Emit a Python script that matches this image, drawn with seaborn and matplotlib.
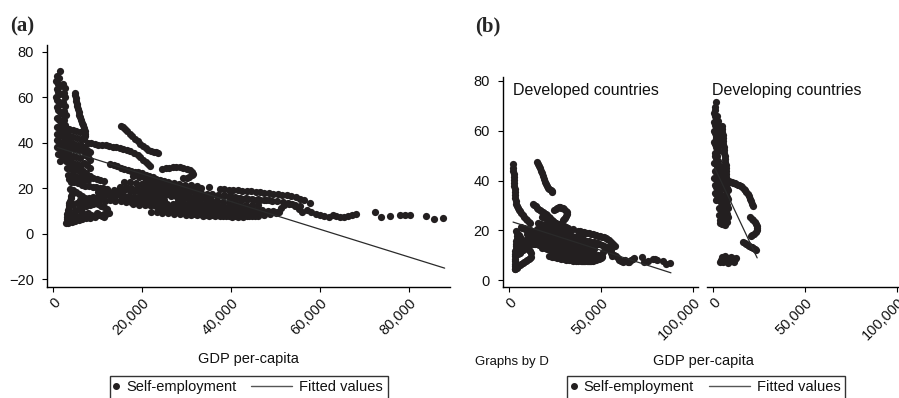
import numpy as np
import pandas as pd
import matplotlib
matplotlib.use("Agg")
import matplotlib.pyplot as plt
import seaborn as sns
from matplotlib.lines import Line2D
from matplotlib.legend_handler import HandlerLine2D
from matplotlib.ticker import FuncFormatter

# ---------------- data (GDP per-capita in thousands, self-employment %) ----------------
# Developed countries
dev1_gdp_k = [2.2,2.3,2.4,2.5,2.6,2.7,2.8,2.9,3.0,3.1,3.2,3.4,3.6,3.9,4.3,4.8,5.4,6.0,6.7,7.4,8.2,9.0,9.8,10.6,11.4]
dev1_se = [46.5,45.2,44.0,42.8,41.5,40.3,39.0,37.8,36.5,35.3,34.0,32.8,31.6,30.6,29.8,29.0,28.3,27.6,26.8,26.0,25.2,24.6,24.0,23.5,23.0]
dev2_gdp_k = [3.0,3.05,3.1,3.2,3.25,3.3,3.4,3.5,3.6,3.7,3.8,3.95,4.1,4.3]
dev2_se = [4.5,5.5,6.5,7.5,8.5,9.5,10.5,11.5,12.5,13.5,14.5,15.5,16.5,17.5]
dev3_gdp_k = [15.2,15.7,16.2,16.7,17.2,17.8,18.4,19.0,19.6,20.2,20.8,21.4,22.0,22.6,23.2,23.6]
dev3_se = [47.5,46.8,46.0,45.0,44.0,43.0,41.8,40.6,39.5,38.6,37.8,37.0,36.4,36.0,35.7,35.5]
dev4_gdp_k = [12.8,13.6,14.4,15.2,16.0,16.8,17.6,18.4,19.2,20.0,20.8,21.6,22.4,23.2,24.0,25.0,26.0,27.0,28.0,29.0,30.0,31.0,32.0]
dev4_se = [30.5,30.0,29.6,29.0,28.6,28.1,27.7,27.3,27.0,26.6,26.0,25.4,24.8,24.2,23.6,23.0,22.4,21.9,21.4,20.9,20.4,20.0,19.6]
dev5_gdp_k = [24.5,25.3,26.1,26.9,27.7,28.5,29.3,30.1,30.8,31.3,31.5,31.2,30.6,30.0,29.3]
dev5_se = [28.3,28.7,29.0,29.3,29.3,29.1,28.8,28.4,27.9,27.2,26.4,25.6,25.0,24.6,24.3]
dev6_gdp_k = [20,21.2,22.4,23.6,24.8,26,27.2,28.4,29.6,30.8,32,33.2,35,37.5,38.5,39.5,40.5,41.5,42.5,43.5,44.5,45.5,46.5,47.5,48.5,49.5,50.5,51.5,52.5,53.5,54.5,55.5,56.5,57.7]
dev6_se = [22,21.7,21.4,21.2,21,20.8,20.6,20.4,20.3,20.2,20.1,20,20.4,19.8,19.6,19.4,19.2,19,18.9,18.8,18.6,18.4,18.2,18,17.8,17.6,17.4,17.1,16.8,16.5,16,15.4,14.6,13.6]
dev7_gdp_k = [6.0,7.0,8.0,9.0,10.0,11.0,12.0,13.0,14.0,15.0,16.0,17.0,18.0,19.0,20.0,21.0,22.0,23.0,24.0,25.0]
dev7_se = [15.0,15.3,15.6,16.0,16.3,16.6,16.8,17.0,17.0,16.9,16.7,16.5,16.3,16.1,15.9,15.7,15.5,15.4,15.2,15.0]
dev8_gdp_k = [14,15.3,16.6,17.9,19.2,20.5,21.8,23.1,24.4,25.7,27,28.3,29.6,30.9,32.2,33.5,34.8,36.1,37.4,38.7,40]
dev8_se = [15,14.8,14.6,14.4,14.2,14,13.8,13.6,13.4,13.2,13,12.8,12.6,12.4,12.2,12,11.8,11.6,11.4,11.2,11]
dev9_gdp_k = [24,25.3,26.6,27.9,29.2,30.5,31.8,33.1,34.4,35.7,37,38.3,39.6,40.9,42.2,43.5,44.8,46.1,47.4,48.7,50]
dev9_se = [10.5,10.2,9.9,9.6,9.3,9.0,8.8,8.6,8.4,8.2,8.0,7.9,7.8,7.7,7.6,7.6,7.7,7.9,8.2,8.6,9.0]
dev10_gdp_k = [20,21.2,22.4,23.6,24.8,26,27.2,28.4,29.6,30.8,32,33.2,34.4,35.6,36.8]
dev10_se = [19,18.7,18.4,18.1,17.8,17.5,17.2,16.9,16.6,16.3,16.0,15.6,15.2,14.8,14.4]
dev11_gdp_k = [28,29.3,30.6,31.9,33.2,34.5,35.8,37.1,38.4,39.7,41,42.3,43.6,44.9,46.2]
dev11_se = [14.2,13.9,13.6,13.3,13.0,12.7,12.4,12.1,11.8,11.5,11.2,10.9,10.6,10.3,10.0]
dev12_gdp_k = [18,19.3,20.6,21.9,23.2,24.5,25.8,27.1,28.4,29.7,31,32.3,33.6]
dev12_se = [13.0,12.8,12.6,12.4,12.2,12.0,11.7,11.4,11.1,10.8,10.5,10.2,9.9]
dev13_gdp_k = [50.3,51.2,52.0,52.8,53.6,54.4,55.2,56.0,57.0,58.0,59.0,60.0,61.0,62.0]
dev13_se = [9.3,11.2,12.6,13.4,12.9,12.2,11.0,9.6,10.2,9.6,8.8,8.2,7.6,7.3]
dev14_gdp_k = [62.8,63.6,64.5,65.4,66.3,67.2,68.0,72.4,73.6,75.8,78.0,79.2,80.3,83.7,85.5,87.7]
dev14_se = [8.2,7.6,7.2,7.4,7.9,8.3,8.8,9.3,7.3,7.6,8.3,8.4,8.0,7.6,6.3,7.0]
dev15_gdp_k = [40,41.3,42.6,43.9,45.2,46.5,47.8,49.1,50.4,51.7,53,54.3,55.6]
dev15_se = [15.8,15.6,15.4,15.2,15.0,14.8,14.6,14.4,14.2,13.8,13.2,12.6,12.0]
dev16_gdp_k = [3.4,4.2,5.0,5.8,6.6,7.4,8.2,9.0,9.8,10.6,11.4,12.2]
dev16_se = [4.6,5.0,5.5,6.0,6.4,6.8,7.2,7.6,8.0,8.4,8.8,9.2]
dev17_gdp_k = [3.8,4.5,5.2,5.9,6.6,7.3,8.0,8.7,9.4,10.1,10.8,11.5,12.2]
dev17_se = [19.8,19.0,18.2,17.4,16.6,15.8,15.0,14.3,13.6,12.9,12.2,11.6,11.0]
dev18_gdp_k = [16,17.3,18.6,19.9,21.2,22.5,23.8,25.1,26.4,27.7,29,30.3,31.6,32.9]
dev18_se = [22.8,22.5,22.2,22.0,21.7,21.4,21.0,20.6,20.2,19.8,19.4,19.0,18.6,18.2]
dev19_gdp_k = [18,19.3,20.6,21.9,23.2,24.5,25.8,27.1,28.4,29.7,31,32.3]
dev19_se = [25.2,24.8,24.4,24.0,23.6,23.2,22.8,22.4,22.0,21.6,21.2,20.8]
dev20_gdp_k = [33,34.3,35.6,36.9,38.2,39.5,40.8,42.1,43.4,44.7,46,47.3,48.6]
dev20_se = [17.2,17.0,16.8,16.6,16.4,16.2,16.0,15.8,15.6,15.4,15.2,15.0,14.8]
dev21_gdp_k = [22,23.3,24.6,25.9,27.2,28.5,29.8,31.1,32.4,33.7,35,36.3,37.6,38.9,40.2,41.5,42.8,44.1,45.4]
dev21_se = [9.6,9.4,9.2,9.0,8.8,8.6,8.4,8.2,8.0,7.9,7.8,7.7,7.6,7.6,7.5,7.5,7.5,7.6,7.8]
dev22_gdp_k = [10,11.2,12.4,13.6,14.8,16,17.2,18.4,19.6,20.8,22]
dev22_se = [18.4,18.6,18.8,19.0,19.1,19.0,18.8,18.6,18.3,18.0,17.7]
dev23_gdp_k = [6.5,7.3,8.1,8.9,9.7,10.5,11.3,12.1]
dev23_se = [21.5,21.0,20.8,20.6,20.4,20.2,20.0,19.8]
dev24_gdp_k = [20,21.3,22.6,23.9,25.2,26.5,27.8,29.1,30.4,31.7,33,34.3,35.6,36.9,38.2,39.5,40.8,42.1,43.4,44.7,46]
dev24_se = [17.6,17.4,17.2,17.0,16.8,16.6,16.3,16.0,15.7,15.4,15.1,14.8,14.5,14.2,13.9,13.6,13.3,13.0,12.8,12.6,12.4]
dev25_gdp_k = [25,26.3,27.6,28.9,30.2,31.5,32.8,34.1,35.4,36.7,38,39.3,40.6,41.9,43.2,44.5,45.8,47.1,48.4]
dev25_se = [11.6,11.3,11.0,10.8,10.6,10.4,10.2,10.0,9.8,9.7,9.6,9.5,9.4,9.3,9.2,9.2,9.3,9.5,9.7]
dev26_gdp_k = [15,16.3,17.6,18.9,20.2,21.5,22.8,24.1,25.4,26.7,28,29.3,30.6,31.9,33.2,34.5,35.8,37.1,38.4,39.7]
dev26_se = [20.6,20.4,20.2,20.0,19.8,19.6,19.4,19.2,19.0,18.8,18.6,18.4,18.2,18.0,17.8,17.6,17.4,17.2,17.0,16.8]
dev27_gdp_k = [30,31.3,32.6,33.9,35.2,36.5,37.8,39.1,40.4,41.7,43,44.3,45.6,46.9,48.2,49.5,50.8]
dev27_se = [12.8,12.6,12.4,12.2,12.0,11.8,11.6,11.4,11.2,11.0,10.8,10.6,10.4,10.2,10.0,9.8,9.6]
dev28_gdp_k = [8,9.2,10.4,11.6,12.8,14,15.2,16.4,17.6,18.8,20]
dev28_se = [14.0,14.2,14.4,14.5,14.6,14.5,14.3,14.1,13.9,13.7,13.5]
dev29_gdp_k = [5.0,5.8,6.6,7.4,8.2,9.0,4.6,5.4,6.2,7.0]
dev29_se = [10.5,11.0,11.5,12.0,12.5,13.0,13.0,13.5,14.0,14.5]

# Developing countries
dvg1_gdp_k = [1.6,0.9,1.3,0.7,1.1,1.5,0.8,1.2,1.6,0.7,1.0,1.4,1.8,0.8,1.2,1.6,2.0,0.9,1.3,1.7,2.1]
dvg1_se = [71.4,69.5,68.5,67,66,65,63.5,62.5,61.5,60,59,58,57,55.5,54.5,53.5,52.5,51,50,49,48]
dvg2_gdp_k = [0.8,1.4,2.0,2.6,3.2,0.9,1.5,2.1,2.7,3.3,0.8,1.4,2.0,2.6,3.2,1.0,1.6,2.2,2.8,3.4,1.1,1.7,2.3,2.9,3.5]
dvg2_se = [47,46.5,46,45.5,45,44,43.5,43,42.5,42,41,40.5,40,39.5,39,38,37.5,37,36.5,36,35,34.5,34,33.5,33]
dvg3_gdp_k = [2.8,3.6,4.4,5.2,6.0,3.0,3.8,4.6,5.4,6.2,3.2,4.0,4.8,5.6,6.4,3.4,4.2,5.0,5.8,6.6,3.6,4.4,5.2,6.0,6.8,4.0,4.8,5.6,6.4,1.6]
dvg3_se = [35,34.6,34.2,33.8,33.4,32,31.6,31.2,30.8,30.4,29,28.6,28.2,27.8,27.4,26,25.6,25.2,24.8,24.4,24,23.8,23.6,23.4,23.2,22.8,22.6,22.4,22.2,32]
dvg4_gdp_k = [3.6,4.4,5.2,6.0,3.8,4.6,5.4,6.2,4.0,4.8,5.6,6.4,4.2,5.0,5.8,6.6]
dvg4_se = [46,45.6,45.2,44.8,43,42.6,42.2,41.8,40,39.6,39.2,38.8,37.5,37.2,36.9,36.6]
dvg5_gdp_k = [4.9,5.0,5.1,5.2,5.3,5.5,5.6,5.8,5.9,6.1,6.3,6.5,6.7,6.9,7.1,7.3,7.2,7.0]
dvg5_se = [62,60.8,59.6,58.4,57.2,56,54.8,53.6,52.4,51.2,50,48.8,47.6,46.4,45.2,44,42.8,41.6]
dvg6_gdp_k = [7.8,8.6,9.4,10.2,11.0,11.8,12.6,13.4,14.2,15.0,15.8,16.6,17.4,18.2,19.0,19.6,20.2,20.8,21.3,21.8]
dvg6_se = [40,39.7,39.4,39.2,39.0,38.8,38.6,38.3,38.0,37.6,37.2,36.7,36.2,35.5,34.6,33.6,32.6,31.6,30.6,29.6]
dvg7_gdp_k = [20.2,21.0,21.8,22.6,23.3,23.8,24.0,23.7,23.1,22.3,21.4,20.6]
dvg7_se = [25.2,24.6,24.0,23.3,22.6,21.8,21.0,20.2,19.4,18.7,18.0,17.5]
dvg8_gdp_k = [16.4,17.2,18.0,18.8,19.6,20.4,21.2,22.0,22.8,23.3]
dvg8_se = [15.3,14.8,14.4,14.0,13.7,13.4,13.1,12.8,12.4,12.0]
dvg9_gdp_k = [3.8,4.6,5.4,6.2,7.0,7.8,8.6,9.4,10.2,11.0,11.8,12.6,5.0,6.6,8.2,9.8,11.4]
dvg9_se = [7.4,8.0,7.2,8.4,7.6,9.0,8.2,7.5,8.8,7.9,8.5,8.9,9.3,9.5,6.8,9.2,7.2]
dvg10_gdp_k = [2.2,2.6,2.4,2.8,2.3,2.7,2.5,2.9,2.4,2.8,2.6,3.0]
dvg10_se = [66,64,62,60,58,56,54,52,50,48,46,44]
dvg11_gdp_k = [7.0,7.6,8.2,7.2,7.8,8.4,7.0,7.6,8.2,6.8,7.4,8.0,7.2,7.8]
dvg11_se = [38,37,36,34.5,33.5,32.5,31,30,29,27.5,26.5,25.5,24,23.5]

# Fitted (linear) values, endpoints
fit_all_gdp = [1000, 88000]
fit_all_se = [37.9, -15.2]
fit_dev_gdp = [2200, 88000]
fit_dev_se = [23.3, 2.9]
fit_dvg_gdp = [1000, 24000]
fit_dvg_se = [45.0, 8.9]

a_xticks = [0, 20000, 40000, 60000, 80000]
a_yticks = [-20, 0, 20, 40, 60, 80]
b_xticks = [0, 50000, 100000]
b_yticks = [0, 20, 40, 60, 80]
panel_titles = ["Developed countries", "Developing countries"]
legend_labels = ["Self-employment", "Fitted values"]

# ---------------- build tables ----------------
dev_parts = [(dev1_gdp_k, dev1_se), (dev2_gdp_k, dev2_se), (dev3_gdp_k, dev3_se), (dev4_gdp_k, dev4_se),
             (dev5_gdp_k, dev5_se), (dev6_gdp_k, dev6_se), (dev7_gdp_k, dev7_se), (dev8_gdp_k, dev8_se),
             (dev9_gdp_k, dev9_se), (dev10_gdp_k, dev10_se), (dev11_gdp_k, dev11_se), (dev12_gdp_k, dev12_se),
             (dev13_gdp_k, dev13_se), (dev14_gdp_k, dev14_se), (dev15_gdp_k, dev15_se), (dev16_gdp_k, dev16_se),
             (dev17_gdp_k, dev17_se), (dev18_gdp_k, dev18_se), (dev19_gdp_k, dev19_se), (dev20_gdp_k, dev20_se),
             (dev21_gdp_k, dev21_se), (dev22_gdp_k, dev22_se), (dev23_gdp_k, dev23_se), (dev24_gdp_k, dev24_se),
             (dev25_gdp_k, dev25_se), (dev26_gdp_k, dev26_se), (dev27_gdp_k, dev27_se), (dev28_gdp_k, dev28_se),
             (dev29_gdp_k, dev29_se)]
dvg_parts = [(dvg1_gdp_k, dvg1_se), (dvg2_gdp_k, dvg2_se), (dvg3_gdp_k, dvg3_se), (dvg4_gdp_k, dvg4_se),
             (dvg5_gdp_k, dvg5_se), (dvg6_gdp_k, dvg6_se), (dvg7_gdp_k, dvg7_se), (dvg8_gdp_k, dvg8_se),
             (dvg9_gdp_k, dvg9_se), (dvg10_gdp_k, dvg10_se), (dvg11_gdp_k, dvg11_se)]


def build(parts, group):
    g, s = [], []
    for gk, se in parts:
        assert len(gk) == len(se)
        g += list(gk)
        s += list(se)
    return pd.DataFrame({"gdp": np.array(g) * 1000.0, "se": s, "D": group})


dev = build(dev_parts, panel_titles[0])
dvg = build(dvg_parts, panel_titles[1])
allpts = pd.concat([dev, dvg], ignore_index=True)

# ---------------- style ----------------
sns.set_theme(style="ticks")
plt.rcParams['font.family'] = ['Liberation Sans', 'DejaVu Sans']
plt.rcParams['axes.unicode_minus'] = True

DOT = '#231f20'
LINE = '#2a2a2a'
FS = 10.5
MS = 27

W, H = 899, 398
fig = plt.figure(figsize=(W / 100, H / 100), dpi=100)
fig.patch.set_facecolor('white')

ax_a = fig.add_axes([47 / W, 1 - 287 / H, (450 - 47) / W, (287 - 45) / H])
ax_b1 = fig.add_axes([503 / W, 1 - 287 / H, 195 / W, 210 / H])
ax_b2 = fig.add_axes([707 / W, 1 - 287 / H, 195 / W, 210 / H])

comma = FuncFormatter(lambda v, p: f"{v:,.0f}")


def style_axis(ax, show_y=True):
    ax.set_facecolor('white')
    for side in ['top', 'right']:
        ax.spines[side].set_visible(False)
    ax.spines['bottom'].set_color('black')
    ax.spines['bottom'].set_linewidth(1.0)
    if show_y:
        ax.spines['left'].set_color('black')
        ax.spines['left'].set_linewidth(1.0)
    else:
        ax.spines['left'].set_visible(False)
        ax.tick_params(axis='y', left=False, labelleft=False)
    ax.tick_params(axis='both', direction='out', length=3.6, width=0.8, color='black',
                   labelsize=FS, labelcolor='#111111')
    ax.tick_params(axis='y', pad=6)
    ax.tick_params(axis='x', pad=2.5)
    ax.xaxis.set_major_formatter(comma)
    ax.set_xlabel('')
    ax.set_ylabel('')
    ax.grid(False)


# ---- panel (a)
sns.scatterplot(data=allpts, x='gdp', y='se', ax=ax_a, color=DOT, s=MS, linewidth=0, legend=False, zorder=2)
sns.lineplot(x=fit_all_gdp, y=fit_all_se, ax=ax_a, color=LINE, linewidth=0.9, estimator=None, zorder=3)
ax_a.set_xlim(-1350, 89200)
ax_a.set_ylim(-23.5, 83)
ax_a.set_xticks(a_xticks)
ax_a.set_yticks(a_yticks)
style_axis(ax_a)

# ---- panel (b)
sns.scatterplot(data=dev, x='gdp', y='se', ax=ax_b1, color=DOT, s=MS, linewidth=0, legend=False, zorder=2)
sns.lineplot(x=fit_dev_gdp, y=fit_dev_se, ax=ax_b1, color=LINE, linewidth=0.9, estimator=None, zorder=3)
sns.scatterplot(data=dvg, x='gdp', y='se', ax=ax_b2, color=DOT, s=MS, linewidth=0, legend=False, zorder=2)
sns.lineplot(x=fit_dvg_gdp, y=fit_dvg_se, ax=ax_b2, color=LINE, linewidth=0.9, estimator=None, zorder=3)
for ax, title, showy in [(ax_b1, panel_titles[0], True), (ax_b2, panel_titles[1], False)]:
    ax.set_xlim(-3260, 102700)
    ax.set_ylim(-2.8, 81.6)
    ax.set_xticks(b_xticks)
    ax.set_yticks(b_yticks)
    style_axis(ax, show_y=showy)
    ax.text(10 / 195 if showy else 5 / 195, (287 - 90.5) / 210, title, transform=ax.transAxes,
            ha='left', va='center', fontsize=11.5, color='#111111')

for ax in [ax_a, ax_b1, ax_b2]:
    for lbl in ax.get_xticklabels():
        lbl.set_rotation(45)
        lbl.set_ha('right')
        lbl.set_va('top')
        lbl.set_rotation_mode('anchor')

# axis titles
ax_a.set_xlabel('GDP per-capita', fontsize=FS, color='#111111')
ax_a.xaxis.set_label_coords((248 - 47) / 403, -(359 - 287) / 242)
ax_a.xaxis.label.set_va('center')
fig.text(703 / W, 1 - 361 / H, 'GDP per-capita', ha='center', va='center', fontsize=FS, color='#111111')
fig.text(475 / W, 1 - 362 / H, 'Graphs by D', ha='left', va='center', fontsize=9.5, color='#111111')

# panel letters
serif = ['Liberation Serif', 'DejaVu Serif']
fig.text(10 / W, 1 - 26 / H, '(a)', family=serif, weight='bold', fontsize=15, ha='left', va='center')
fig.text(475 / W, 1 - 26.5 / H, '(b)', family=serif, weight='bold', fontsize=15, ha='left', va='center')


# legends
class LeftExtLine(HandlerLine2D):
    def get_xdata(self, legend, xdescent, ydescent, width, height, fontsize):
        return [-xdescent - 2.45 * fontsize, -xdescent + width], [-xdescent + 0.5 * width]


for cx in [248.5, 706]:
    dot_h = Line2D([], [], marker='o', linestyle='none', color=DOT, markersize=4)
    line_h = Line2D([], [], color='#555555', linewidth=1.0)
    leg = fig.legend(handles=[dot_h, line_h], labels=legend_labels, loc='upper center',
                     bbox_to_anchor=(cx / W, 1 - 376 / H), ncol=2, frameon=True, fancybox=False,
                     edgecolor='black', fontsize=FS, handlelength=0.35, handletextpad=0.5,
                     columnspacing=3.46, borderpad=0.3, borderaxespad=0.0,
                     handler_map={line_h: LeftExtLine()})
    leg.get_frame().set_linewidth(1.0)
    leg.get_frame().set_facecolor('white')
    for t in leg.get_texts():
        t.set_color('#111111')

fig.savefig('out.png', dpi=100, facecolor='white')
